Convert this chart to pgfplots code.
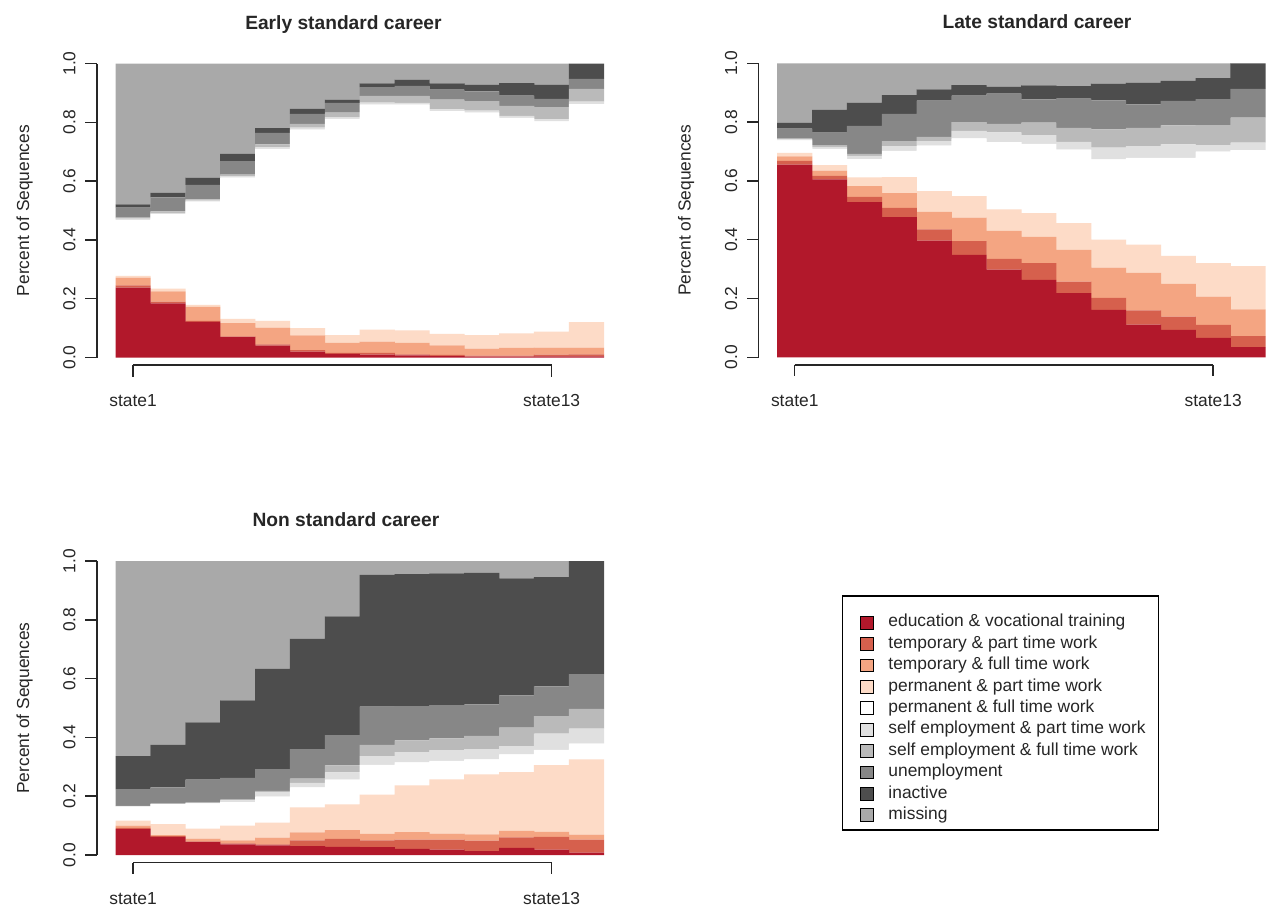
\documentclass[border=0pt]{standalone}
\usepackage{fontspec}
\setmainfont{Liberation Sans}
\usepackage{pgfplots}
\usepackage{pgfplotstable}
\pgfplotsset{compat=1.18}

% state colours (RdGy scheme, missing = darkgrey)
\definecolor{cEdu}{HTML}{B2182B}
\definecolor{cTP}{HTML}{D6604D}
\definecolor{cTF}{HTML}{F4A582}
\definecolor{cPP}{HTML}{FDDBC7}
\definecolor{cPF}{HTML}{FFFFFF}
\definecolor{cSP}{HTML}{E0E0E0}
\definecolor{cSF}{HTML}{BABABA}
\definecolor{cUn}{HTML}{878787}
\definecolor{cIn}{HTML}{4D4D4D}
\definecolor{cMi}{HTML}{A9A9A9}
\definecolor{txt}{HTML}{262626}

\newcommand\lbl{\fontsize{8.7pt}{10pt}\selectfont}
\newcommand\ttl{\fontsize{9.6pt}{11pt}\selectfont\bfseries}

% state distribution per position (shares of sequences)
\pgfplotstableread{
t edu tp tf pp pf sp sf un in mi
1 .238 .007 .027 .006 .190 .004 .004 .034 .011 .479
2 .184 .006 .035 .009 .254 .004 .005 .048 .015 .440
3 .121 .004 .047 .007 .351 .004 .004 .049 .025 .388
4 .069 .003 .045 .014 .481 .005 .005 .046 .025 .307
5 .040 .005 .057 .023 .585 .005 .010 .039 .016 .220
6 .020 .005 .050 .025 .675 .007 .013 .034 .017 .154
7 .012 .004 .034 .026 .736 .006 .015 .033 .011 .123
8 .010 .006 .038 .041 .765 .007 .023 .030 .012 .068
9 .007 .004 .039 .042 .768 .006 .024 .034 .021 .055
10 .005 .004 .032 .039 .758 .006 .033 .034 .021 .068
11 .003 .003 .024 .046 .757 .007 .032 .033 .023 .072
12 .003 .003 .027 .049 .733 .007 .034 .035 .042 .067
13 .004 .006 .024 .054 .715 .007 .042 .028 .048 .072
14 .004 .007 .023 .086 .742 .008 .044 .034 .052 .000
}\early

\pgfplotstableread{
t edu tp tf pp pf sp sf un in mi
1 .655 .013 .015 .012 .043 .003 .003 .034 .020 .202
2 .605 .012 .018 .019 .055 .007 .006 .042 .078 .158
3 .528 .018 .036 .030 .062 .011 .007 .095 .079 .134
4 .477 .031 .050 .055 .089 .016 .017 .093 .064 .108
5 .397 .038 .060 .070 .155 .015 .015 .123 .038 .089
6 .348 .047 .080 .073 .197 .025 .030 .090 .036 .074
7 .298 .037 .095 .073 .229 .033 .029 .103 .024 .079
8 .263 .057 .090 .080 .236 .030 .042 .079 .048 .075
9 .218 .039 .108 .091 .250 .027 .047 .100 .042 .078
10 .161 .041 .103 .095 .273 .040 .062 .099 .057 .069
11 .111 .049 .127 .096 .295 .040 .062 .080 .074 .066
12 .093 .045 .112 .095 .333 .046 .065 .083 .068 .060
13 .066 .044 .096 .114 .380 .022 .068 .088 .072 .050
14 .035 .037 .091 .147 .395 .025 .085 .098 .087 .000
}\late

\pgfplotstableread{
t edu tp tf pp pf sp sf un in mi
1 .088 .004 .008 .017 .048 .001 .001 .057 .112 .664
2 .062 .002 .004 .037 .068 .001 .001 .055 .145 .625
3 .044 .002 .010 .034 .086 .001 .001 .078 .195 .549
4 .036 .004 .010 .050 .080 .006 .002 .074 .264 .474
5 .033 .003 .023 .051 .089 .015 .004 .074 .341 .367
6 .030 .020 .027 .085 .068 .015 .015 .100 .375 .265
7 .028 .027 .030 .087 .084 .025 .024 .103 .404 .188
8 .027 .023 .022 .133 .102 .029 .039 .130 .448 .047
9 .021 .031 .026 .159 .078 .035 .040 .116 .449 .045
10 .018 .034 .021 .184 .063 .037 .040 .113 .448 .042
11 .013 .036 .021 .204 .051 .035 .045 .107 .448 .040
12 .024 .036 .022 .200 .060 .028 .063 .110 .398 .059
13 .018 .044 .017 .227 .052 .055 .059 .102 .371 .055
14 .008 .044 .017 .256 .054 .051 .067 .118 .385 .000
}\nonstd

% the ten stacked states of one table
\newcommand\stateplots[1]{%
  \addplot[fill=cEdu,draw=none] table[x=t,y=edu]{#1};
  \addplot[fill=cTP,draw=none]  table[x=t,y=tp]{#1};
  \addplot[fill=cTF,draw=none]  table[x=t,y=tf]{#1};
  \addplot[fill=cPP,draw=none]  table[x=t,y=pp]{#1};
  \addplot[fill=cPF,draw=none]  table[x=t,y=pf]{#1};
  \addplot[fill=cSP,draw=none]  table[x=t,y=sp]{#1};
  \addplot[fill=cSF,draw=none]  table[x=t,y=sf]{#1};
  \addplot[fill=cUn,draw=none]  table[x=t,y=un]{#1};
  \addplot[fill=cIn,draw=none]  table[x=t,y=in]{#1};
  \addplot[fill=cMi,draw=none]  table[x=t,y=mi]{#1};
}

% R-style axes: y axis 0..1, x axis from state1 to state13
\tikzset{axln/.style={draw=txt,line width=0.75pt}}
\newcommand\raxes{%
  \draw[axln] (axis cs:-0.036,0) -- (axis cs:-0.036,1);
  \pgfplotsinvokeforeach{0.0,0.2,0.4,0.6,0.8,1.0}{%
    \draw[axln] (axis cs:-0.036,##1) -- ++(-5.8pt,0pt);
    \node[rotate=90,anchor=base,font=\lbl,text=txt,inner sep=0pt]
      at ([xshift=-10.8pt]axis cs:-0.036,##1) {##1};
  }
  \draw[axln] ([yshift=-3.75pt]axis cs:1,0) -- ([yshift=-3.75pt]axis cs:13,0);
  \draw[axln] ([yshift=-3.75pt]axis cs:1,0) -- ++(0pt,-5.8pt);
  \draw[axln] ([yshift=-3.75pt]axis cs:13,0) -- ++(0pt,-5.8pt);
  \node[anchor=base,font=\lbl,text=txt,inner sep=0pt] at ([yshift=-24.5pt]axis cs:1,0) {state1};
  \node[anchor=base,font=\lbl,text=txt,inner sep=0pt] at ([yshift=-24.5pt]axis cs:13,0) {state13};
  \node[rotate=90,anchor=base,font=\lbl,text=txt,inner sep=0pt]
    at ([xshift=-43.35pt]axis cs:0.5,0.5) {Percent of Sequences};
}

\pgfplotsset{seqd/.style={
  scale only axis, width=244.1pt, height=147pt,
  xmin=0.5, xmax=14.5, ymin=0, ymax=1,
  axis lines=none, xtick=\empty, ytick=\empty,
  clip=false, anchor=south west,
  ybar stacked, bar width=1.01,
}}

\begin{document}
\begin{tikzpicture}
\path[use as bounding box] (0,0) rectangle (633.5pt,-454.5pt);

\begin{axis}[seqd, at={(57.85pt,-178.75pt)},
  title={Early standard career},
  every axis title/.style={at={(0.4665,1)}, anchor=base, yshift=17.25pt,
    font=\ttl, text=txt, inner sep=0pt}]
  \stateplots{\early}
  \raxes
\end{axis}

\begin{axis}[seqd, at={(388.65pt,-178.65pt)},
  title={Late standard career},
  every axis title/.style={at={(0.532,1)}, anchor=base, yshift=17.25pt,
    font=\ttl, text=txt, inner sep=0pt}]
  \stateplots{\late}
  \raxes
\end{axis}

\begin{axis}[seqd, at={(57.85pt,-427.5pt)},
  title={Non standard career},
  every axis title/.style={at={(0.4716,1)}, anchor=base, yshift=17.25pt,
    font=\ttl, text=txt, inner sep=0pt},
  legend entries={education \& vocational training, temporary \& part time work,
    temporary \& full time work, permanent \& part time work,
    permanent \& full time work, self employment \& part time work,
    self employment \& full time work, unemployment, inactive, missing},
  legend image code/.code={\draw[#1,draw=black,line width=0.4pt] (0pt,-3.2pt) rectangle (6.4pt,3.2pt);},
  legend style={at={(1.5243,0.820)}, anchor=north west,
    draw=none, fill=none,
    font=\lbl, text=txt,
    inner xsep=0pt, inner ysep=0pt, row sep=2.5pt,
    nodes={inner sep=0pt, text height=6.3pt, text depth=1.9pt},
    /tikz/every odd column/.append style={column sep=7.3pt}},
  legend cell align=left]
  \stateplots{\nonstd}
  \raxes
\end{axis}

% legend frame
\draw[black,line width=0.6pt] (421.35pt,-298pt) rectangle (579.15pt,-415pt);
\end{tikzpicture}
\end{document}
